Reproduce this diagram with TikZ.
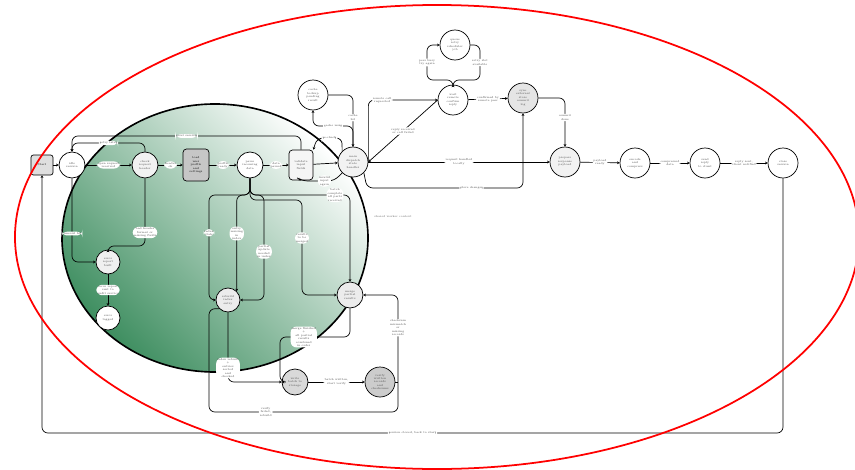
\documentclass[tikz,border=0pt]{standalone}
\usepackage{fontspec}
\usetikzlibrary{arrows.meta}
\definecolor{leafD}{RGB}{62,142,96}
\definecolor{leafM}{RGB}{165,204,180}
\newcommand{\tinyfont}{\fontsize{2.4}{2.9}\selectfont}

\begin{document}
\begin{tikzpicture}[x=0.03cm,y=-0.03cm,
    st/.style = {circle,draw,line width=0.6pt,fill=white,minimum size=0.78cm,inner sep=0pt,align=center,font=\tinyfont,text=black!70},
    big/.style = {st,minimum size=0.9cm},
    lbl/.style = {fill=white,inner sep=0.8pt,align=center,font=\tinyfont,text=black!70},
    link/.style = {draw,line width=0.6pt,rounded corners=5pt,-{Stealth[length=2.2pt,width=2.4pt]}}
  ]
    \clip (0,0) rectangle (855,470);
    % background blob
    \shade[top color=white,middle color=leafM,bottom color=leafD,shading angle=-45]
      (215,238) ellipse [x radius=4.59cm, y radius=4.02cm];
    \draw[line width=1.4pt] (215,238) ellipse [x radius=4.59cm, y radius=4.02cm];

    \node[draw,line width=0.6pt,rounded corners=2pt,fill=gray!25,minimum width=0.66cm,minimum height=0.6cm,font=\tinyfont] (start) at (42,165) {Start};
    \node[st] (n1) at (72,165) {idle\\session};
    \node[st,fill=gray!10] (n2) at (145,165) {check\\request\\header};
    \node[draw,line width=0.6pt,rounded corners=3pt,fill=gray!45,minimum width=0.78cm,minimum height=0.96cm,align=center,font=\tinyfont] (n3) at (196,165) {load\\user\\profile\\and\\settings};
    \node[st] (n4) at (250,165) {parse\\incoming\\data};
    \node[draw,line width=0.6pt,rounded corners=3pt,fill=gray!8,minimum width=0.72cm,minimum height=0.9cm,align=center,font=\tinyfont,text=black!70] (n5) at (301,165) {validate\\input\\fields};
    \node[big,fill=gray!10] (n6) at (353,162) {main\\dispatch\\state\\handler};
    \node[big] (n7) at (313,95) {cache\\lookup\\pending\\result};
    \node[big] (n8) at (453,100) {wait\\remote\\confirm\\reply};
    \node[big] (n9) at (455,45) {queue\\retry\\scheduler\\job};
    \node[big,fill=gray!20] (n10) at (523,98) {sync\\external\\store\\commit\\log};
    \node[big,fill=gray!10] (n11) at (565,162) {prepare\\response\\payload};
    \node[big] (n12) at (635,163) {encode\\and\\compress};
    \node[big] (n13) at (705,163) {send\\reply\\to client};
    \node[big] (n14) at (783,163) {close\\session};
    \node[st,minimum size=0.72cm,fill=gray!12] (n15) at (108,262) {error\\report\\built};
    \node[st,minimum size=0.72cm] (n16) at (108,318) {error\\logged};
    \node[st,minimum size=0.72cm,fill=gray!15] (n17) at (228,300) {rebuild\\index\\entry};
    \node[st,fill=gray!15] (n18) at (350,295) {merge\\partial\\results};
    \node[st,fill=gray!30] (n20) at (295,382) {write\\batch to\\storage};
    \node[big,fill=gray!40] (n21) at (380,382) {verify\\written\\records\\and\\checksums};
    \node[font=\tinyfont,text=black!60] (note) at (393,217) {shared worker context};

    \draw[link] (start) -- (n1);
    \draw[link] (n1) -- node[lbl]{open request\\received} (n2);
    \draw[link] (n2) -- node[lbl]{header\\ok} (n3);
    \draw[link] (n3) -- node[lbl]{profile\\ready} (n4);
    \draw[link] (n4) -- node[lbl]{data\\parsed} (n5);
    \draw[link] (n5) -- (n6);
    \draw[link] (n2.north) -- (145,143) -- node[lbl]{retry later} (72,143) -- (n1.north);
    \draw[link] (n5.north) -- (301,136) -- node[lbl]{reset session} (72,136) -- (n1.north);
    \draw[link] (n1.south) |- node[lbl,pos=0.33]{timeout hit} (n15.west);
    \draw[link] (n2.south) -- node[lbl,pos=0.8]{bad header\\format or\\missing fields} (145,246) -| (n15.north);
    \draw[link] (n15) -- node[lbl]{error report\\sent to\\audit service} (n16);
    \draw[link] (n14.south) -- (783,433) -- node[lbl]{session closed, back to start} (42,433) -- (start.south);

    % fan out of the parser
    \draw[link] (n4.south) -- (250,195) -| node[lbl,pos=0.68]{index\\stale} (209,300) -- (n17.west);
    \draw[link] (n4.south) -- (250,195) -| node[lbl,pos=0.7]{entry\\missing\\in\\index} (n17.north east);
    \draw[link] (n4.south) -- (250,195) -| node[lbl,pos=0.77]{partial\\update\\needed\\in index} (264,300) -- (n17.east);
    \draw[link] (n4.south) -- (250,200) -| node[lbl,pos=0.7]{results\\to be\\merged} (302,295) -- (n18.west);
    \draw[link] (n4.south) -- (250,195) -- node[lbl,pos=0.85]{batch\\complete\\all parts\\received} (350,195) -- (n18.north);
    \draw[link] (n18.south) |- node[lbl,pos=0.83]{merge finished\\+\\all partial\\results\\combined\\in order} (280,337) |- (n20.west);
    \draw[link] (n17.south) |- node[lbl,pos=0.4]{index rebuilt\\+\\entries\\sorted\\and\\checked} (n20.west);
    \draw[link] (n20) -- node[lbl]{batch written,\\start verify} (n21);
    \coordinate (j1) at (398,382);
    \draw[link,-] (n21.east) -- (j1);
    \draw[link] (n17.south west) -| (209,330) -- (209,412) -- node[lbl,pos=0.3]{verify\\failed,\\rebuild} (398,412) -- node[lbl,pos=0.72]{checksum\\mismatch\\or\\missing\\records} (398,295) -- (n18.east);

    % upper part
    \draw[link] (n7.east) -| node[lbl,pos=0.72]{cache\\hit} (n6.north);
    \draw[link] (n6.north) -- (353,126) -| node[lbl,pos=0.25]{cache miss} (n7.south);
    \draw[link] (n6.north west) -- (342,138) -- node[lbl]{re-check} (317,138) -- (n5.north east);
    \draw[link] (n6.south west) -- (334,181) -- node[lbl,pos=0.3]{invalid\\input\\again} (302,181) -- (n5.south);
    \draw[link] (n6.east) |- node[lbl,pos=0.6]{remote call\\requested} (n8.west);
    \draw[link] (n8.west) -- node[lbl]{reply received\\or call failed} (n6.east);
    \draw[link] (n6.east) -- node[lbl]{request handled\\locally} (n11.west);
    \draw[link] (n6.south east) -- (367,188) -- node[lbl,pos=0.67]{store changes} (523,188) -- (n10.south);
    \draw[link] (n8) -- node[lbl]{confirmed by\\remote peer} (n10);
    \draw[link] (n10.east) -| node[lbl,pos=0.7]{commit\\done} (n11.north);
    \draw[link] (n8.north) -- (453,80) -| node[lbl,pos=0.75]{peer busy\\try again} (427,45) -- (n9.west);
    \draw[link] (n9.east) -- (480,45) -- node[lbl]{retry slot\\available} (480,80) -- (453,80) -- (n8.north);
    \draw[link] (n11) -- node[lbl]{payload\\ready} (n12);
    \draw[link] (n12) -- node[lbl]{compressed\\data} (n13);
    \draw[link] (n13) -- node[lbl]{reply sent,\\client notified} (n14);

    \draw[red,line width=1.5pt] (437,237) ellipse [x radius=12.66cm, y radius=6.96cm];
\end{tikzpicture}
\end{document}
